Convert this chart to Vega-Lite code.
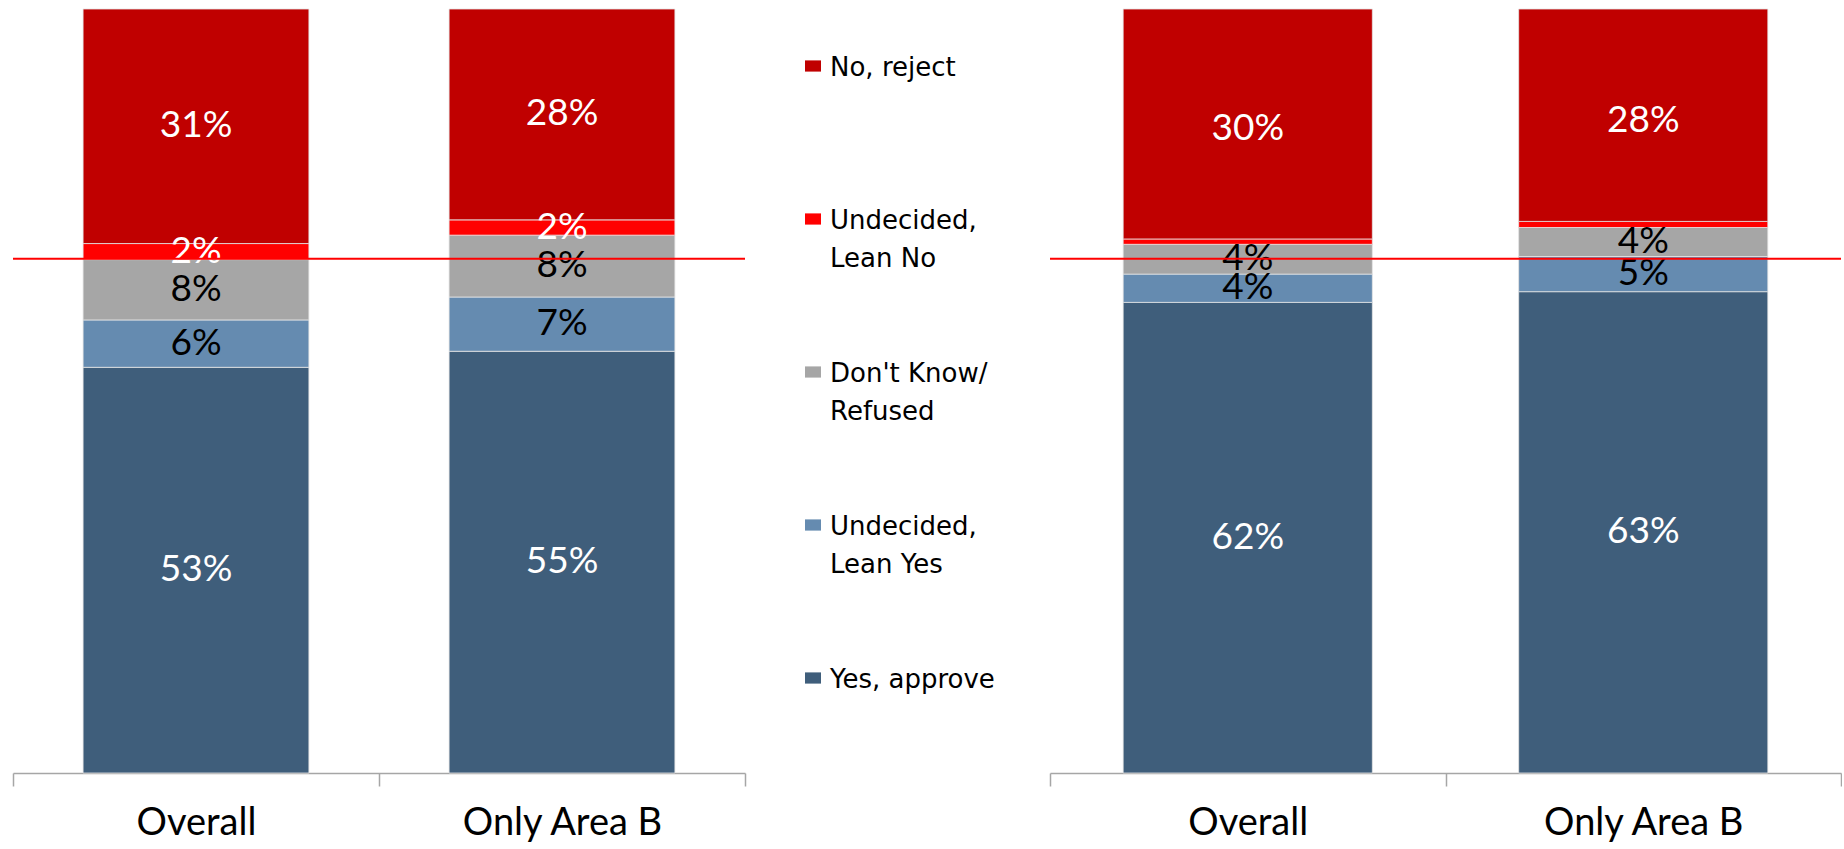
{
  "$schema": "https://vega.github.io/schema/vega-lite/v6.json",
  "background": "white",
  "padding": {"left": 12, "top": 8, "right": 0, "bottom": 0},
  "data": {
    "values": [
      {"chart": "Survey 1", "group": "Overall", "response": "Yes, approve", "rank": 1, "value": 0.531},
      {"chart": "Survey 1", "group": "Overall", "response": "Undecided, Lean Yes", "rank": 2, "value": 0.062},
      {"chart": "Survey 1", "group": "Overall", "response": "Don't Know/Refused", "rank": 3, "value": 0.079},
      {"chart": "Survey 1", "group": "Overall", "response": "Undecided, Lean No", "rank": 4, "value": 0.021},
      {"chart": "Survey 1", "group": "Overall", "response": "No, reject", "rank": 5, "value": 0.307},
      {"chart": "Survey 1", "group": "Only Area B", "response": "Yes, approve", "rank": 1, "value": 0.552},
      {"chart": "Survey 1", "group": "Only Area B", "response": "Undecided, Lean Yes", "rank": 2, "value": 0.071},
      {"chart": "Survey 1", "group": "Only Area B", "response": "Don't Know/Refused", "rank": 3, "value": 0.081},
      {"chart": "Survey 1", "group": "Only Area B", "response": "Undecided, Lean No", "rank": 4, "value": 0.020},
      {"chart": "Survey 1", "group": "Only Area B", "response": "No, reject", "rank": 5, "value": 0.276},
      {"chart": "Survey 2", "group": "Overall", "response": "Yes, approve", "rank": 1, "value": 0.616},
      {"chart": "Survey 2", "group": "Overall", "response": "Undecided, Lean Yes", "rank": 2, "value": 0.037},
      {"chart": "Survey 2", "group": "Overall", "response": "Don't Know/Refused", "rank": 3, "value": 0.039},
      {"chart": "Survey 2", "group": "Overall", "response": "Undecided, Lean No", "rank": 4, "value": 0.007},
      {"chart": "Survey 2", "group": "Overall", "response": "No, reject", "rank": 5, "value": 0.301},
      {"chart": "Survey 2", "group": "Only Area B", "response": "Yes, approve", "rank": 1, "value": 0.630},
      {"chart": "Survey 2", "group": "Only Area B", "response": "Undecided, Lean Yes", "rank": 2, "value": 0.046},
      {"chart": "Survey 2", "group": "Only Area B", "response": "Don't Know/Refused", "rank": 3, "value": 0.038},
      {"chart": "Survey 2", "group": "Only Area B", "response": "Undecided, Lean No", "rank": 4, "value": 0.008},
      {"chart": "Survey 2", "group": "Only Area B", "response": "No, reject", "rank": 5, "value": 0.278}
    ]
  },
  "spacing": 303,
  "hconcat": [
    {
      "width": 732,
      "height": 764,
      "transform": [{"filter": "datum.chart == 'Survey 1'"}],
      "layer": [
        {
          "mark": {"type": "bar", "stroke": "#e4e4e4", "strokeWidth": 0.8, "width": {"band": 0.617}},
          "encoding": {
            "x": {"field": "group", "type": "nominal", "sort": ["Overall", "Only Area B"], "scale": {"paddingInner": 0, "paddingOuter": 0}, "axis": {"title": null}},
            "y": {"field": "value", "type": "quantitative", "stack": "zero", "scale": {"domain": [0, 1], "nice": false}, "axis": null},
            "color": {
              "field": "response", "type": "nominal",
              "scale": {
                "domain": ["No, reject", "Undecided, Lean No", "Don't Know/Refused", "Undecided, Lean Yes", "Yes, approve"],
                "range": ["#C00000", "#FF0000", "#A6A6A6", "#658BB0", "#3F5E7B"]
              },
              "legend": {
                "title": null,
                "orient": "none",
                "legendX": 787,
                "legendY": 44,
                "padding": 0,
                "gridAlign": "all",
                "labelFont": "DejaVu Sans",
                "labelFontSize": 26,
                "labelColor": "black",
                "labelLimit": 400,
                "labelOffset": 4,
                "labelBaseline": "top",
                "symbolType": "M-1,-0.7L1,-0.7L1,0.7L-1,0.7Z",
                "symbolSize": 256,
                "symbolStrokeWidth": 0,
                "symbolOpacity": 1,
                "rowPadding": 87,
                "labelExpr": "datum.label == 'Undecided, Lean No' ? ['Undecided,', 'Lean No'] : datum.label == 'Undecided, Lean Yes' ? ['Undecided,', 'Lean Yes'] : datum.label == \"Don't Know/Refused\" ? [\"Don't Know/\", 'Refused'] : datum.label",
                "encoding": {"labels": {"lineHeight": {"value": 38}, "dy": {"value": -11}}}
              }
            },
            "order": {"field": "rank", "type": "quantitative"}
          }
        },
        {
          "transform": [{"filter": "datum.value >= 0.015"}],
          "mark": {"type": "text", "font": "Lato", "fontSize": 37, "baseline": "middle"},
          "encoding": {
            "x": {"field": "group", "type": "nominal", "sort": ["Overall", "Only Area B"]},
            "y": {"field": "value", "type": "quantitative", "stack": "zero", "bandPosition": 0.5},
            "order": {"field": "rank", "type": "quantitative"},
            "text": {"field": "value", "type": "quantitative", "format": ".0%"},
            "color": {"condition": {"test": "datum.response == \"Don't Know/Refused\" || datum.response == 'Undecided, Lean Yes'", "value": "black"}, "value": "white"}
          }
        },
        {
          "data": {"values": [{"threshold": 0.673}]},
          "mark": {"type": "rule", "color": "#FF0000", "strokeWidth": 2},
          "encoding": {"y": {"field": "threshold", "type": "quantitative"}}
        }
      ]
    },
    {
      "width": 791,
      "height": 764,
      "transform": [{"filter": "datum.chart == 'Survey 2'"}],
      "layer": [
        {
          "mark": {"type": "bar", "stroke": "#e4e4e4", "strokeWidth": 0.8, "width": {"band": 0.63}},
          "encoding": {
            "x": {"field": "group", "type": "nominal", "sort": ["Overall", "Only Area B"], "scale": {"paddingInner": 0, "paddingOuter": 0}, "axis": {"title": null}},
            "y": {"field": "value", "type": "quantitative", "stack": "zero", "scale": {"domain": [0, 1], "nice": false}, "axis": null},
            "color": {"field": "response", "type": "nominal"},
            "order": {"field": "rank", "type": "quantitative"}
          }
        },
        {
          "transform": [{"filter": "datum.value >= 0.015"}],
          "mark": {"type": "text", "font": "Lato", "fontSize": 37, "baseline": "middle"},
          "encoding": {
            "x": {"field": "group", "type": "nominal", "sort": ["Overall", "Only Area B"]},
            "y": {"field": "value", "type": "quantitative", "stack": "zero", "bandPosition": 0.5},
            "order": {"field": "rank", "type": "quantitative"},
            "text": {"field": "value", "type": "quantitative", "format": ".0%"},
            "color": {"condition": {"test": "datum.response == \"Don't Know/Refused\" || datum.response == 'Undecided, Lean Yes'", "value": "black"}, "value": "white"}
          }
        },
        {
          "data": {"values": [{"threshold": 0.673}]},
          "mark": {"type": "rule", "color": "#FF0000", "strokeWidth": 2},
          "encoding": {"y": {"field": "threshold", "type": "quantitative"}}
        }
      ]
    }
  ],
  "config": {
    "view": {"stroke": null},
    "axis": {
      "domainColor": "#A6A6A6",
      "domainWidth": 1.5,
      "tickColor": "#A6A6A6",
      "tickWidth": 1.5,
      "tickSize": 13,
      "tickBand": "extent",
      "labelFont": "Lato",
      "labelFontSize": 38,
      "labelColor": "black",
      "labelAngle": 0,
      "labelPadding": 18,
      "labelLimit": 400,
      "grid": false
    }
  }
}
